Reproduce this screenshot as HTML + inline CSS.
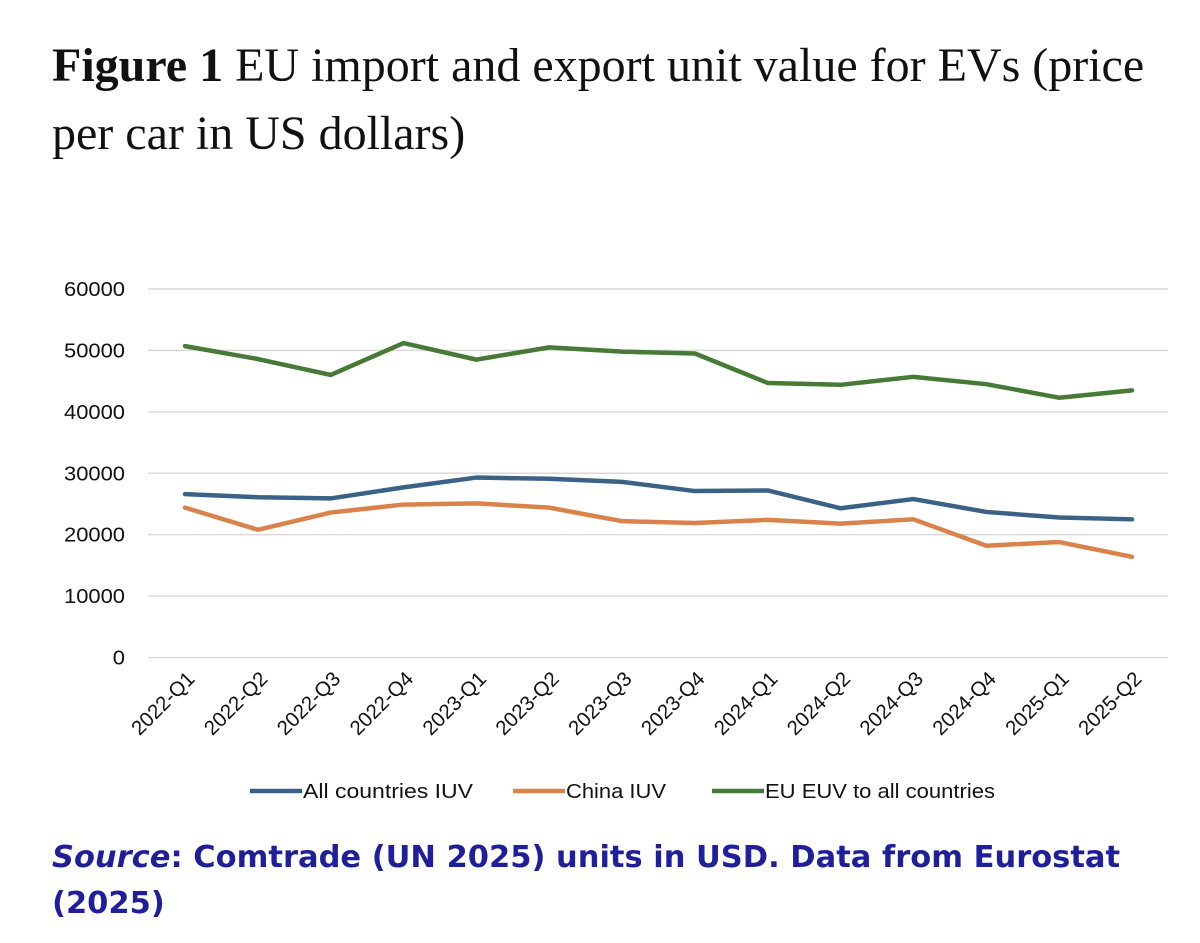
<!DOCTYPE html>
<html><head><meta charset="utf-8"><style>
body{margin:0;background:#fff;width:1200px;height:943px;overflow:hidden;position:relative}
#title{position:absolute;left:52px;top:32px;width:1140px;font-family:"Liberation Serif",serif;font-size:48px;line-height:68px;color:#111;white-space:nowrap}
#source{position:absolute;left:52px;top:835px;width:1140px;font-family:"DejaVu Sans","Liberation Sans",sans-serif;font-weight:bold;font-size:30.5px;line-height:46px;color:#1f1f9a;white-space:nowrap}
svg{position:absolute;left:0;top:0}
</style></head><body>
<div id="title"><b>Figure 1</b> EU import and export unit value for EVs (price<br>per car in US dollars)</div>
<svg id="chart" width="1200" height="943"></svg>
<div id="source"><i>Source</i>: Comtrade (UN 2025) units in USD. Data from Eurostat<br>(2025)</div>
<script>
const categories=["2022-Q1","2022-Q2","2022-Q3","2022-Q4","2023-Q1","2023-Q2","2023-Q3","2023-Q4","2024-Q1","2024-Q2","2024-Q3","2024-Q4","2025-Q1","2025-Q2"];
const allIUV=[26600,26100,25900,27700,29300,29100,28600,27100,27200,24300,25800,23700,22800,22500];
const chinaIUV=[24400,20800,23600,24900,25100,24400,22200,21900,22400,21800,22500,18200,18800,16400];
const euEUV=[50700,48600,46000,51200,48500,50500,49800,49500,44700,44400,45700,44500,42300,43500];
const yTicks=[0,10000,20000,30000,40000,50000,60000];
const seriesNames=["All countries IUV","China IUV","EU EUV to all countries"];
const NS="http://www.w3.org/2000/svg";
const svg=document.getElementById("chart");
const x0=148,x1=1168,yTop=289,yBot=657.5,yMax=60000;
const xFirst=185,xLast=1132;
function xs(i){return xFirst+(xLast-xFirst)*i/(categories.length-1);}
function ys(v){return yBot-(yBot-yTop)*v/yMax;}
function mk(tag,attrs){const e=document.createElementNS(NS,tag);for(const k in attrs)e.setAttribute(k,attrs[k]);svg.appendChild(e);return e;}
yTicks.forEach(t=>{
  const l=mk("line",{x1:x0,x2:x1,y1:ys(t),y2:ys(t),stroke:"#d9d9d9","stroke-width":1.5});
  
  
  const tx=mk("text",{x:125,y:ys(t)+7,"text-anchor":"end","font-family":"Liberation Sans, sans-serif","font-size":20,fill:"#111",textLength:String(t).length*12.2,lengthAdjust:"spacingAndGlyphs"});
  tx.textContent=t;
  
  
});
categories.forEach((c,i)=>{
  const tx=mk("text",{x:0,y:0,"text-anchor":"end","font-family":"Liberation Sans, sans-serif","font-size":20.5,fill:"#111",transform:`translate(${xs(i)+11},${680}) rotate(-45)`});
  tx.textContent=c;
  
  
});
const colors=["#3b6286","#d9824b","#477a36"];
[allIUV,chinaIUV,euEUV].forEach((s,k)=>{
  const p=mk("polyline",{points:s.map((v,i)=>xs(i)+","+ys(v)).join(" "),fill:"none",stroke:colors[k],"stroke-width":4.5,"stroke-linejoin":"round","stroke-linecap":"round"});
  
  
});
const legX=[250,513,712];
const legW=[170,100,230];
seriesNames.forEach((n,k)=>{
  const l=mk("line",{x1:legX[k],x2:legX[k]+52,y1:791,y2:791,stroke:colors[k],"stroke-width":4.5});
  
  
  const t=mk("text",{x:legX[k]+53,y:798,"font-family":"Liberation Sans, sans-serif","font-size":20,fill:"#111",textLength:legW[k],lengthAdjust:"spacingAndGlyphs"});
  t.textContent=n;
  
  
});
</script>
</body></html>
